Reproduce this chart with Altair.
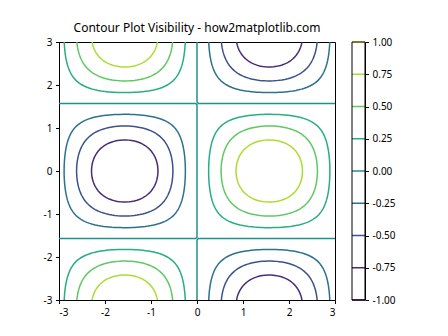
import numpy as np
import pandas as pd
import altair as alt

# ---- data ----
x_vals = np.linspace(-3, 3, 100)
y_vals = np.linspace(-3, 3, 100)
levels = [-1.0, -0.75, -0.5, -0.25, 0.0, 0.25, 0.5, 0.75, 1.0]
level_colors = ["#440154", "#472c7a", "#3b528b", "#2c728e", "#21918c",
                "#28ae80", "#5ec962", "#addc30", "#fde725"]
tick_values = [-3, -2, -1, 0, 1, 2, 3]
title_text = "Contour Plot Visibility - how2matplotlib.com"

X, Y = np.meshgrid(x_vals, y_vals)
Z = np.sin(X) * np.cos(Y)


def edge_point(key, lev):
    kind, i, j = key
    if kind == "h":
        za, zb = Z[i, j], Z[i, j + 1]
        t = (lev - za) / (zb - za)
        return x_vals[j] + t * (x_vals[j + 1] - x_vals[j]), y_vals[i]
    za, zb = Z[i, j], Z[i + 1, j]
    t = (lev - za) / (zb - za)
    return x_vals[j], y_vals[i] + t * (y_vals[i + 1] - y_vals[i])


def contour_paths(lev):
    ny, nx = Z.shape
    adj = {}

    def link(a, b):
        adj.setdefault(a, []).append(b)
        adj.setdefault(b, []).append(a)

    above = Z >= lev
    for i in range(ny - 1):
        for j in range(nx - 1):
            c0, c1, c2, c3 = above[i, j], above[i, j + 1], above[i + 1, j + 1], above[i + 1, j]
            if c0 == c1 == c2 == c3:
                continue
            B = ("h", i, j)
            R = ("v", i, j + 1)
            T = ("h", i + 1, j)
            L = ("v", i, j)
            crossed = []
            if c0 != c1:
                crossed.append(B)
            if c1 != c2:
                crossed.append(R)
            if c2 != c3:
                crossed.append(T)
            if c3 != c0:
                crossed.append(L)
            if len(crossed) == 2:
                link(crossed[0], crossed[1])
            elif len(crossed) == 4:
                center = (Z[i, j] + Z[i, j + 1] + Z[i + 1, j + 1] + Z[i + 1, j]) / 4 >= lev
                if center == c0:
                    link(B, R)
                    link(T, L)
                else:
                    link(L, B)
                    link(R, T)
    visited = set()
    paths = []

    def walk(start):
        path = [start]
        visited.add(start)
        prev, cur = None, start
        while True:
            nxt = [n for n in adj[cur] if n != prev]
            if not nxt:
                break
            n = nxt[0]
            if n == start:
                path.append(n)
                break
            if n in visited:
                break
            path.append(n)
            visited.add(n)
            prev, cur = cur, n
        return path

    for node, nb in adj.items():
        if len(nb) == 1 and node not in visited:
            paths.append(walk(node))
    for node in adj:
        if node not in visited:
            paths.append(walk(node))
    return paths


rows = []
for lev in levels:
    for k, p in enumerate(contour_paths(lev)):
        for o, key in enumerate(p):
            px, py = edge_point(key, lev)
            rows.append({"x": px, "y": py, "level": lev, "path": f"{lev}_{k}", "o": o})
df = pd.DataFrame(rows)
cb_df = pd.DataFrame({"level": levels})
frame_df = pd.DataFrame({"f": [0]})

FONT = "Noto Sans"
W, H = 276, 258
CB_X0, CB_X1 = 293, 306
color_scale = alt.Scale(domain=levels, range=level_colors)

int_label = "datum.value < 0 ? '-' + format(-datum.value, 'd') : format(datum.value, 'd')"
cb_label = "datum.value < 0 ? '-' + format(-datum.value, '.2f') : format(datum.value, '.2f')"

lines = alt.Chart(df).mark_line(strokeWidth=1.5).encode(
    x=alt.X("x:Q", scale=alt.Scale(domain=[-3, 3], nice=False, zero=False),
            axis=alt.Axis(values=tick_values, title=None, labelExpr=int_label)),
    y=alt.Y("y:Q", scale=alt.Scale(domain=[-3, 3], nice=False, zero=False),
            axis=alt.Axis(values=tick_values, title=None, labelExpr=int_label)),
    color=alt.Color("level:O", scale=color_scale, legend=None),
    detail="path:N",
    order="o:Q",
)

cb_rules = alt.Chart(cb_df).mark_rule(strokeWidth=1.5).encode(
    y=alt.Y("level:Q", scale=alt.Scale(domain=[-1, 1], nice=False, zero=False),
            axis=alt.Axis(orient="right", values=levels, labelExpr=cb_label,
                          title=None, offset=CB_X1 - W)),
    x=alt.value(CB_X0),
    x2=alt.value(CB_X1),
    color=alt.Color("level:O", scale=color_scale, legend=None),
)

cb_frame = alt.Chart(frame_df).mark_rect(fill=None, stroke="black", strokeWidth=1).encode(
    x=alt.value(CB_X0), x2=alt.value(CB_X1), y=alt.value(0), y2=alt.value(H)
)

chart = alt.layer(lines, cb_rules, cb_frame).resolve_scale(y="independent").properties(
    width=W, height=H,
    title=alt.TitleParams(title_text, fontSize=12, font=FONT, fontWeight="normal",
                          anchor="middle", offset=2, color="black"),
    padding={"left": 43, "top": 22, "right": 5, "bottom": 5},
    background="white",
).configure_view(stroke="black", strokeWidth=1).configure_axis(
    grid=False, domainColor="black", tickColor="black", labelColor="black",
    tickSize=3.5, labelPadding=3.5, labelFontSize=10, labelFont=FONT, domainWidth=1,
)

chart.save("out.html", embed_options={"renderer": "svg", "actions": False})
